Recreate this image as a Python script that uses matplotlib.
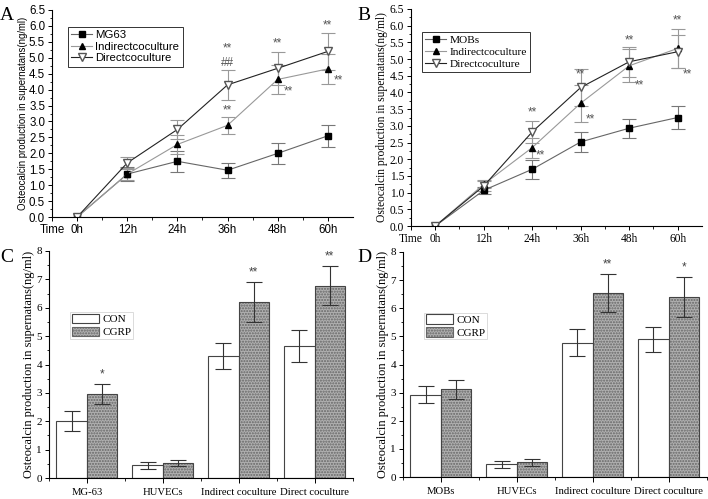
import matplotlib
matplotlib.use('Agg')
import matplotlib.pyplot as plt
from matplotlib.patches import Patch
import numpy as np

# line charts (A, B)
hours = [0, 12, 24, 36, 48, 60]
hour_labels = ['Time', '0h', '12h', '24h', '36h', '48h', '60h']

a_mg63 = [0, 1.35, 1.75, 1.47, 2.0, 2.55]
a_mg63_err = [0, 0.22, 0.32, 0.23, 0.33, 0.35]
a_indirect = [0, 1.35, 2.28, 2.88, 4.32, 4.65]
a_indirect_err = [0, 0.2, 0.3, 0.27, 0.45, 0.48]
a_direct = [0, 1.7, 2.75, 4.15, 4.67, 5.2]
a_direct_err = [0, 0.18, 0.3, 0.47, 0.52, 0.57]

b_mobs = [0, 1.07, 1.7, 2.52, 2.93, 3.25]
b_mobs_err = [0, 0.1, 0.28, 0.3, 0.28, 0.35]
b_indirect = [0, 1.25, 2.35, 3.68, 4.8, 5.32]
b_indirect_err = [0, 0.12, 0.3, 0.55, 0.5, 0.58]
b_direct = [0, 1.2, 2.82, 4.15, 4.92, 5.22]
b_direct_err = [0, 0.15, 0.33, 0.55, 0.45, 0.5]

# significance marks (x in hours, y in ng/ml, text)
a_marks = [(36, 5.3, '**'), (36, 4.85, '##'), (36, 3.35, '**'), (48, 5.45, '**'),
           (50.5, 3.95, '**'), (60, 6.0, '**'), (62.5, 4.3, '**')]
b_marks = [(24, 3.4, '**'), (26, 2.1, '**'), (36, 4.55, '**'), (38.5, 3.2, '**'),
           (48, 5.55, '**'), (50.5, 4.2, '**'), (60, 6.15, '**'), (62.5, 4.55, '**')]

# bar charts (C, D)
c_groups = ['MG-63', 'HUVECs', 'Indirect coculture', 'Direct coculture']
c_con = [2.0, 0.45, 4.3, 4.65]
c_con_err = [0.35, 0.12, 0.45, 0.57]
c_cgrp = [2.97, 0.53, 6.2, 6.78]
c_cgrp_err = [0.35, 0.1, 0.7, 0.7]
c_stars = ['*', '', '**', '**']

d_groups = ['MOBs', 'HUVECs', 'Indirect coculture', 'Direct coculture']
d_con = [2.93, 0.45, 4.77, 4.9]
d_con_err = [0.3, 0.13, 0.48, 0.45]
d_cgrp = [3.12, 0.52, 6.53, 6.4]
d_cgrp_err = [0.33, 0.12, 0.68, 0.72]
d_stars = ['', '', '**', '*']

ylab = 'Osteocalcin production in supernatans(ng/ml)'

fig = plt.figure(figsize=(7.08, 4.99), dpi=100)


def line_panel(ax, base, base_name, base_err, ind, ind_err, dirc, dirc_err, marks, font, ylab_size):
    ax.errorbar(hours[1:], base[1:], yerr=base_err[1:], fmt='none', ecolor='#777777',
                elinewidth=0.8, capsize=5, capthick=0.8)
    ax.errorbar(hours[1:], ind[1:], yerr=ind_err[1:], fmt='none', ecolor='#999999',
                elinewidth=0.8, capsize=5, capthick=0.8)
    ax.errorbar(hours[1:], dirc[1:], yerr=dirc_err[1:], fmt='none', ecolor='#999999',
                elinewidth=0.8, capsize=5, capthick=0.8)
    ax.plot(hours, base, color='#666666', lw=0.8, marker='s', ms=4.5,
            mfc='black', mec='black', label=base_name)
    ax.plot(hours, ind, color='#999999', lw=0.8, marker='^', ms=5,
            mfc='black', mec='black', label='Indirectcoculture')
    ax.plot(hours, dirc, color='#222222', lw=0.8, marker='v', ms=5.5,
            mfc='white', mec='#555555', label='Directcoculture')
    for x, y, t in marks:
        ax.text(x, y, t, ha='center', va='center', fontsize=8.5, color='#555555',
                family='Liberation Sans')
    ax.set_xlim(-6, 66)
    ax.set_ylim(0, 6.5)
    ax.set_xticks([-6] + hours)
    ax.set_xticklabels(hour_labels, family=font, fontsize=8.3)
    ax.set_xticks(np.arange(-6, 66, 6), minor=True)
    ax.set_yticks(np.arange(0, 6.51, 0.5))
    ax.set_yticklabels(['%.1f' % v for v in np.arange(0, 6.51, 0.5)], family=font, fontsize=8.3)
    ax.set_yticks(np.arange(0, 6.5, 0.25), minor=True)
    ax.tick_params(length=3, width=0.7, pad=2)
    ax.tick_params(which='minor', length=1.8, width=0.6)
    ax.spines['top'].set_visible(False)
    ax.spines['right'].set_visible(False)
    ax.set_ylabel(ylab, family=font, fontsize=ylab_size, labelpad=1)
    leg = ax.legend(prop={'family': font, 'size': 8.2}, fancybox=False, edgecolor='black',
                    handlelength=1.8, borderpad=0.3, labelspacing=0.15, handletextpad=0.3,
                    borderaxespad=0, loc='upper left')
    leg.get_frame().set_linewidth(0.7)
    return leg


axA = fig.add_axes([0.0735, 0.565, 0.425, 0.415])
legA = line_panel(axA, a_mg63, 'MG63', a_mg63_err, a_indirect, a_indirect_err,
                  a_direct, a_direct_err, a_marks, 'Liberation Sans', 6.9)
legA.set_bbox_to_anchor((0.053, 0.92), transform=axA.transAxes)

axB = fig.add_axes([0.5805, 0.547, 0.411, 0.435])
legB = line_panel(axB, b_mobs, 'MOBs', b_mobs_err, b_indirect, b_indirect_err,
                  b_direct, b_direct_err, b_marks, 'Liberation Serif', 8.3)
legB.set_bbox_to_anchor((0.038, 0.894), transform=axB.transAxes)


def bar_panel(ax, groups, con, con_err, cgrp, cgrp_err, stars):
    x = np.arange(len(groups))
    w = 0.4
    ax.bar(x - w / 2, con, w, color='white', edgecolor='#444444', lw=0.8, label='CON')
    ax.bar(x + w / 2, cgrp, w, color='#b0b0b0', edgecolor='#666666', lw=0, hatch='......')
    ax.bar(x + w / 2, cgrp, w, color='none', edgecolor='#444444', lw=0.8)
    ax.errorbar(x - w / 2, con, yerr=con_err, fmt='none', ecolor='#333333',
                elinewidth=0.8, capsize=6, capthick=0.8)
    ax.errorbar(x + w / 2, cgrp, yerr=cgrp_err, fmt='none', ecolor='#333333',
                elinewidth=0.8, capsize=6, capthick=0.8)
    for xi, y, e, s in zip(x, cgrp, cgrp_err, stars):
        if s:
            ax.text(xi + w / 2, y + e + 0.12, s, ha='center', va='bottom', fontsize=8.5,
                    color='#444444', family='Liberation Sans')
    ax.set_xlim(-0.5, 3.5)
    ax.set_ylim(0, 8)
    ax.set_xticks(x)
    ax.set_xticklabels(groups, family='Liberation Serif', fontsize=7.7)
    ax.set_xticks(np.arange(-0.5, 3.6, 1), minor=True)
    ax.tick_params(axis='x', which='major', length=3.5, width=0.7, pad=4)
    ax.tick_params(axis='x', which='minor', length=2.5, width=0.6)
    ax.set_yticks(range(0, 9))
    ax.set_yticklabels([str(v) for v in range(0, 9)], family='Liberation Serif', fontsize=8)
    ax.set_yticks(np.arange(0.5, 8, 1), minor=True)
    ax.tick_params(axis='y', which='major', length=3, width=0.7, pad=2)
    ax.tick_params(axis='y', which='minor', length=1.8, width=0.6)
    ax.spines['top'].set_visible(False)
    ax.spines['right'].set_visible(False)
    ax.set_ylabel(ylab, family='Liberation Serif', fontsize=8.9, labelpad=1)
    handles = [Patch(facecolor='white', edgecolor='#444444', lw=0.8, label='CON'),
               Patch(facecolor='#b0b0b0', edgecolor='#666666', lw=0.8, hatch='......', label='CGRP')]
    leg = ax.legend(handles=handles, loc='upper left', bbox_to_anchor=(0.071, 0.731),
                    frameon=True, fancybox=False, edgecolor='#cccccc',
                    prop={'family': 'Liberation Serif', 'size': 8}, handlelength=2.4,
                    handleheight=0.95, labelspacing=0.2, handletextpad=0.3, borderpad=0.15,
                    borderaxespad=0)
    leg.get_frame().set_linewidth(0.6)


axC = fig.add_axes([0.069, 0.042, 0.429, 0.455])
bar_panel(axC, c_groups, c_con, c_con_err, c_cgrp, c_cgrp_err, c_stars)
axD = fig.add_axes([0.569, 0.044, 0.429, 0.451])
bar_panel(axD, d_groups, d_con, d_con_err, d_cgrp, d_cgrp_err, d_stars)

for letter, x, y in [('A', 0.0, 0.985), ('B', 0.505, 0.985), ('C', 0.0, 0.5), ('D', 0.505, 0.5)]:
    fig.text(x, y, letter, fontsize=14, family='Liberation Serif', va='top', ha='left')

fig.savefig('out.png', dpi=100)
